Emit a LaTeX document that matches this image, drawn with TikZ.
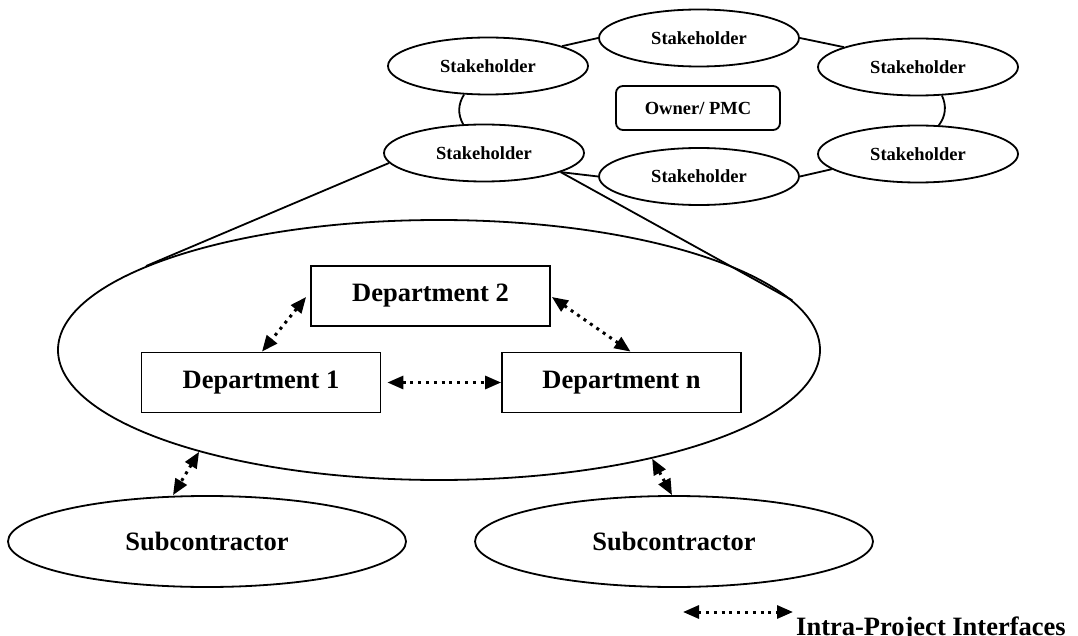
\documentclass[tikz,border=0pt]{standalone}
\usepackage{fontspec}
\setmainfont{Liberation Serif}
\usetikzlibrary{shapes.geometric,arrows.meta}
\begin{document}
\begin{tikzpicture}[x=1pt,y=-1pt,
  stake/.style={ellipse,draw,line width=1.8pt,minimum width=200pt,minimum height=57pt,
    inner sep=0pt,font=\fontsize{18.5}{22}\selectfont\bfseries},
  ownerbox/.style={rectangle,draw,line width=1.8pt,rounded corners=7pt,minimum width=164pt,
    minimum height=44pt,inner sep=0pt,font=\fontsize{18.5}{22}\selectfont\bfseries},
  deptbox/.style={rectangle,draw,line width=1.8pt,minimum width=239pt,minimum height=60pt,
    inner sep=0pt,font=\fontsize{26.5}{30}\selectfont\bfseries},
  subell/.style={ellipse,draw,line width=1.8pt,minimum width=398pt,minimum height=91pt,
    inner sep=0pt,font=\fontsize{26.5}{30}\selectfont\bfseries},
  bigell/.style={ellipse,draw,line width=1.8pt,minimum width=762pt,minimum height=260pt,inner sep=0pt},
  conn/.style={draw,line width=1.8pt},
  iface/.style={draw,line width=3pt,dash pattern=on 3pt off 4.8pt,
    {Triangle[length=16pt,width=13pt]}-{Triangle[length=16pt,width=13pt]}},
  legendtext/.style={font=\fontsize{26.5}{30}\selectfont\bfseries,inner sep=0pt}
]
\useasboundingbox (0,0) rectangle (1078,636);

% stakeholder ring around the owner
\node[stake] (sT)  at (699,38)    {Stakeholder};
\node[stake] (sUL) at (488,66)    {Stakeholder};
\node[stake] (sUR) at (918,67)    {Stakeholder};
\node[stake] (sLL) at (484,153)   {Stakeholder};
\node[stake] (sLR) at (918,154)   {Stakeholder};
\node[stake] (sB)  at (699,176.5) {Stakeholder};
\node[ownerbox] (own) at (698,108) {Owner/ PMC};

\draw[conn] (sT.west) -- (sUL.15);
\draw[conn] (sT.east) -- (sUR.165);
\draw[conn] (sUL.230) to[bend right=30] (sLL.126);
\draw[conn] (sUR.310) to[bend left=30] (sLR.54);
\draw[conn] (sLL.-14) -- (sB.west);
\draw[conn] (sB.east) -- (sLR.190);

% enlarged stakeholder organisation
\node[bigell] (big) at (439,350) {};
\draw[conn] (sLL.186) -- (big.164);
\draw[conn] (sLL.-14) -- (big.8);

\node[deptbox] (d2) at (430.5,296) {Department 2};
\node[deptbox] (d1) at (261,382.5) {Department 1};
\node[deptbox] (dn) at (621.5,382.5) {Department n};

\draw[iface] ([xshift=-4pt,yshift=-1pt]d2.west) -- ([xshift=1pt]d1.north);
\draw[iface] ([xshift=1pt,yshift=-1pt]d2.east) -- ([xshift=9pt]dn.north);
\draw[iface] ([xshift=6pt]d1.east) -- (dn.west);

% subcontractors
\node[subell] (sub1) at (207,541.5) {Subcontractor};
\node[subell] (sub2) at (674,541.5) {Subcontractor};
\draw[iface] (big.203.5) -- ([xshift=-34pt]sub1.north);
\draw[iface] (big.-27.2) -- ([xshift=-2pt]sub2.north);

% legend
\coordinate (lgA) at (683,612);
\coordinate (lgB) at (793,612);
\draw[iface] (lgA) -- (lgB);
\node[legendtext,anchor=base west] (lgT) at (796,635) {Intra-Project Interfaces};
\end{tikzpicture}
\end{document}
